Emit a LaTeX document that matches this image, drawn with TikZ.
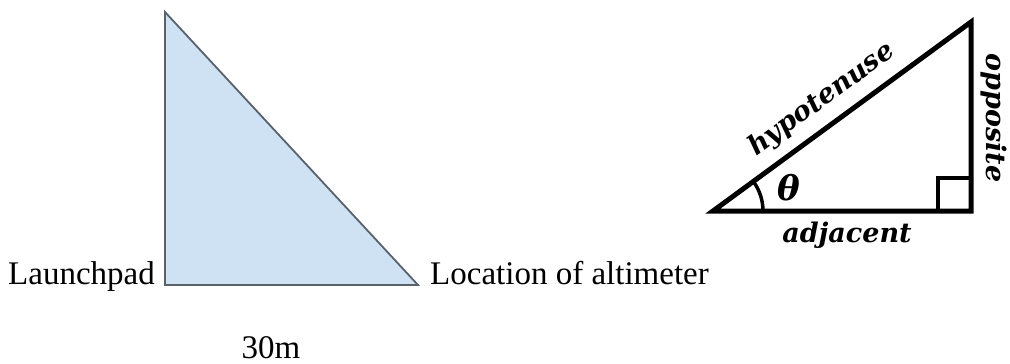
\documentclass[tikz,border=0pt]{standalone}
\usepackage{fontspec}
\setmainfont{Liberation Serif}
\newfontfamily\trigfont{DejaVu Serif}
\usetikzlibrary{positioning}
\definecolor{skyfill}{HTML}{CFE2F3}
\definecolor{skyedge}{HTML}{5B6168}
\tikzset{
    plain/.style = {inner sep=0pt, font=\fontsize{33}{38}\selectfont},
    trig/.style = {inner sep=0pt, font=\trigfont\bfseries\itshape\fontsize{27}{31}\selectfont},
    skytri/.style = {draw=skyedge, fill=skyfill, line width=1.8pt, line join=miter},
    blacktri/.style = {draw=black, line width=5pt, line join=miter},
    rightbox/.style = {draw=black, line width=4pt},
    anglearc/.style = {draw=black, line width=3.5pt}
}
\begin{document}
\begin{tikzpicture}[x=1pt,y=-1pt]
\useasboundingbox (0,0) rectangle (1010,364);
%
\coordinate (top) at (165,12);
\coordinate (pad) at (165,285);
\coordinate (alt) at (418,285);
\draw[skytri] (top) -- (pad) -- (alt) -- cycle;
%
\node[plain, anchor=base east] at (155,284) (lp) {Launchpad};
\node[plain, anchor=base west] at (430,284) (loc) {Location of altimeter};
\node[plain, anchor=base] at (271,358) (dist) {30m};
%
\coordinate (a) at (713,211);
\coordinate (b) at (971,211);
\coordinate (c) at (971,22);
\draw[blacktri] (a) -- (b) -- (c) -- cycle;
\draw[rightbox] (938,211) rectangle (971,178);
\draw[anglearc] (a) ++(50,0) arc[start angle=0, end angle=-36.2, radius=50];
%
\node[trig, font=\trigfont\bfseries\itshape\fontsize{34}{38}\selectfont] at (789,188) (th) {θ};
\node[trig] at (847,235) (adj) {adjacent};
\node[trig, rotate=-90] at (994,118) (opp) {opposite};
\path (a) -- (c) node[trig, sloped, above=12pt, pos=0.48] (hyp) {hypotenuse};

\end{tikzpicture}
\end{document}
